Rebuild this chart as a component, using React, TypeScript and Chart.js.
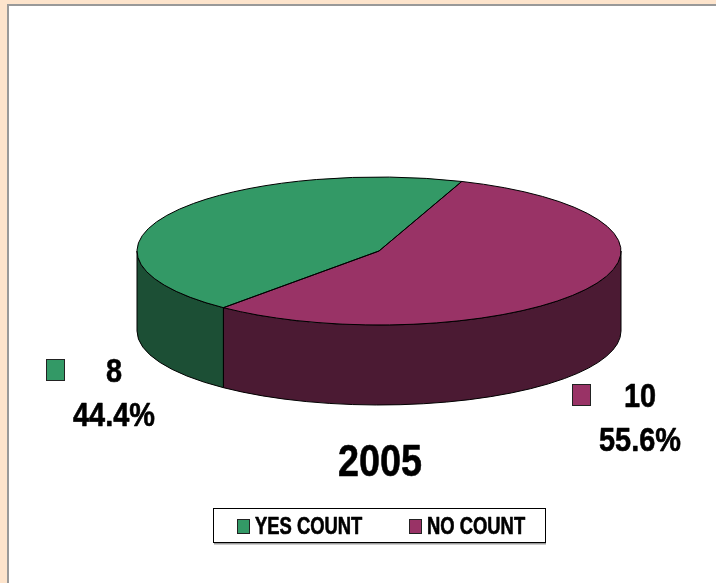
import React, { useEffect, useRef } from "react";
import { Chart, registerables } from "chart.js";

Chart.register(...registerables);

const categories = ["YES COUNT", "NO COUNT"];
const counts = [8, 10];
const topColors = ["#339966", "#993366"];
const wallColors = ["#1C4F35", "#4B1A33"];
const chartTitle = "2005";

const TILT = 74 / 242;
const DEPTH = 80;
const FONT = '"Liberation Sans", Arial, sans-serif';

function squeezedText(ctx: CanvasRenderingContext2D, text: string, x: number, y: number, size: number, squeeze: number, align: "center" | "left") {
  ctx.save();
  ctx.font = `bold ${size}px ${FONT}`;
  ctx.fillStyle = "#000";
  ctx.strokeStyle = "#000";
  ctx.lineWidth = 0.6;
  ctx.lineJoin = "round";
  ctx.textBaseline = "alphabetic";
  ctx.textAlign = "left";
  const w = ctx.measureText(text).width * squeeze;
  ctx.translate(align === "center" ? x - w / 2 : x, y);
  ctx.scale(squeeze, 1);
  ctx.fillText(text, 0, 0);
  ctx.strokeText(text, 0, 0);
  ctx.restore();
}

function swatch(ctx: CanvasRenderingContext2D, x: number, y: number, w: number, h: number, color: string) {
  ctx.save();
  ctx.fillStyle = color;
  ctx.strokeStyle = "#222";
  ctx.lineWidth = 1;
  ctx.fillRect(x, y, w, h);
  ctx.strokeRect(x, y, w, h);
  ctx.restore();
}

const pie3d = {
  id: "pie3d",
  beforeDatasetsDraw(chart: any) {
    const ctx: CanvasRenderingContext2D = chart.ctx;
    const arcs = chart.getDatasetMeta(0).data;
    const { x: cx, y: cy, outerRadius: r } = arcs[0].getProps(["x", "y", "outerRadius"]);
    const ry = r * TILT;
    ctx.save();
    arcs.forEach((arc: any, i: number) => {
      const { startAngle, endAngle } = arc.getProps(["startAngle", "endAngle"]);
      for (const k of [0, 2, -2]) {
        const a0 = Math.max(startAngle, k * Math.PI);
        const a1 = Math.min(endAngle, k * Math.PI + Math.PI);
        if (a1 <= a0) continue;
        ctx.beginPath();
        ctx.ellipse(cx, cy, r, ry, 0, a0, a1, false);
        ctx.ellipse(cx, cy + DEPTH, r, ry, 0, a1, a0, true);
        ctx.closePath();
        ctx.fillStyle = wallColors[i];
        ctx.fill();
        ctx.strokeStyle = "#000";
        ctx.lineWidth = 1;
        ctx.stroke();
      }
    });
    ctx.restore();
    // flatten the library's arcs into the tilted top face
    ctx.save();
    ctx.translate(0, cy);
    ctx.scale(1, TILT);
    ctx.translate(0, -cy);
  },
  afterDatasetsDraw(chart: any) {
    const ctx: CanvasRenderingContext2D = chart.ctx;
    ctx.restore();
    const arcs = chart.getDatasetMeta(0).data;
    ctx.save();
    ctx.strokeStyle = "#000";
    ctx.lineWidth = 1;
    arcs.forEach((arc: any) => {
      const { x: cx, y: cy, outerRadius: r, startAngle, endAngle } = arc.getProps(["x", "y", "outerRadius", "startAngle", "endAngle"]);
      ctx.beginPath();
      ctx.moveTo(cx, cy);
      ctx.ellipse(cx, cy, r, r * TILT, 0, startAngle, endAngle, false);
      ctx.closePath();
      ctx.stroke();
    });
    ctx.restore();
  },
  afterDraw(chart: any) {
    const ctx: CanvasRenderingContext2D = chart.ctx;
    const total = counts.reduce((a, b) => a + b, 0);
    const pct = (v: number) => `${((v / total) * 100).toFixed(1)}%`;

    swatch(ctx, 46.5, 359.5, 18, 21, topColors[0]);
    squeezedText(ctx, String(counts[0]), 114, 382, 34, 0.85, "center");
    squeezedText(ctx, pct(counts[0]), 114, 426, 34, 0.85, "center");

    swatch(ctx, 572.5, 384.5, 18, 21, topColors[1]);
    squeezedText(ctx, String(counts[1]), 640, 407, 34, 0.85, "center");
    squeezedText(ctx, pct(counts[1]), 640, 451, 34, 0.85, "center");

    squeezedText(ctx, chartTitle, 380, 476, 45, 0.84, "center");

    ctx.save();
    ctx.fillStyle = "#9a9a9a";
    ctx.fillRect(214, 543, 332, 1.5);
    ctx.fillStyle = "#fff";
    ctx.strokeStyle = "#000";
    ctx.lineWidth = 1;
    ctx.fillRect(213.5, 508.5, 332, 34);
    ctx.strokeRect(213.5, 508.5, 332, 34);
    ctx.restore();

    swatch(ctx, 237.5, 519.5, 12, 14, topColors[0]);
    squeezedText(ctx, categories[0], 255, 534, 23, 0.8, "left");
    swatch(ctx, 409.5, 519.5, 12, 14, topColors[1]);
    squeezedText(ctx, categories[1], 427, 534, 23, 0.8, "left");
  },
};

export default function App() {
  const ref = useRef<HTMLCanvasElement>(null);
  useEffect(() => {
    document.body.style.margin = "0";
    const chart = new Chart(ref.current!, {
      type: "pie",
      data: {
        labels: categories,
        datasets: [{ data: counts, backgroundColor: topColors, borderWidth: 0 }],
      },
      options: {
        animation: false,
        responsive: false,
        rotation: 220,
        layout: { padding: { left: 137, right: 95, top: 9, bottom: 90 } },
        plugins: { legend: { display: false }, title: { display: false }, tooltip: { enabled: false } },
      },
      plugins: [pie3d],
    } as any);
    return () => chart.destroy();
  }, []);
  return (
    <div style={{ position: "relative", width: 716, height: 583, background: "#FDE4CC", overflow: "hidden" }}>
      <div
        style={{
          position: "absolute",
          left: 7,
          top: 4,
          right: 0,
          bottom: 0,
          background: "#fff",
          borderLeft: "2px solid #999",
          borderTop: "2px solid #999",
        }}
      />
      <canvas ref={ref} width={716} height={583} style={{ position: "absolute", left: 0, top: 0, display: "block" }} />
    </div>
  );
}
